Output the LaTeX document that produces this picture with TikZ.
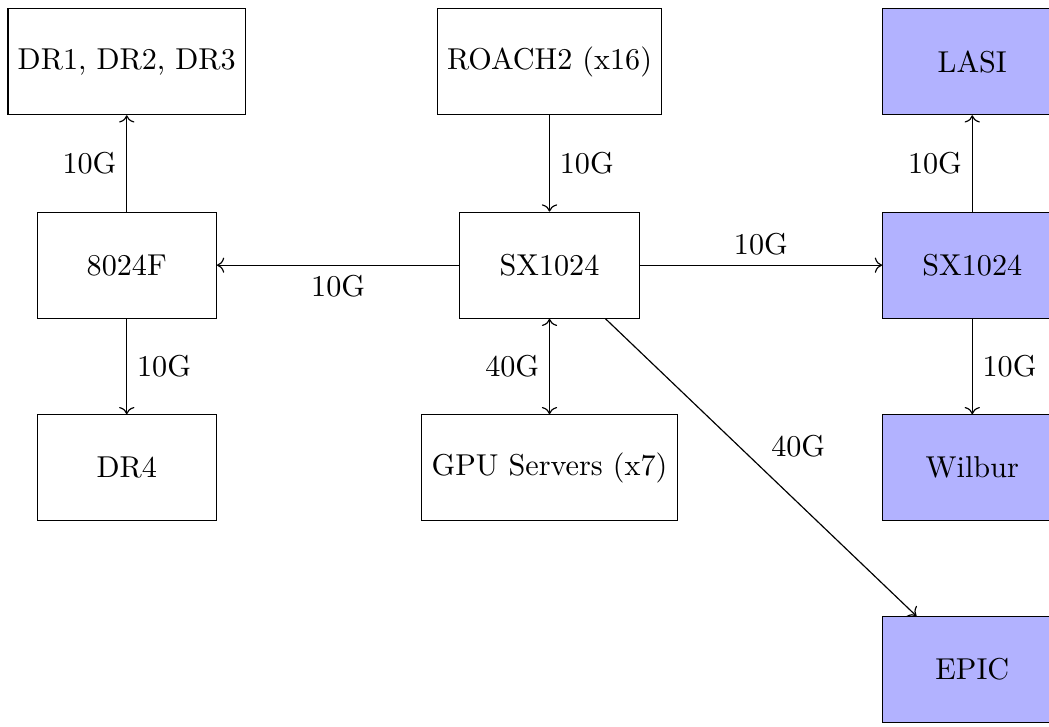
\documentclass[tikz,border=0pt]{standalone}
\usepackage{tikz}
\usetikzlibrary{arrows.meta,positioning}
\begin{document}
\begin{tikzpicture}[
    font=\fontsize{10.3}{12.4}\selectfont,
    box/.style={draw, minimum width=2.15cm, minimum height=1.27cm, align=center},
    ext/.style={box, fill=blue!30},
    arr/.style={->}
  ]
    \useasboundingbox (0,0) rectangle (12.58,-8.71);

    \node[box]  (dr123)  at (1.52,-0.74)  {DR1, DR2, DR3};
    \node[box]  (sw8024) at (1.52,-3.18)  {8024F};
    \node[box]  (dr4)    at (1.52,-5.61)  {DR4};
    \node[box]  (roach)  at (6.59,-0.74)  {ROACH2 (x16)};
    \node[box]  (sxmain) at (6.59,-3.18)  {SX1024};
    \node[box]  (gpu)    at (6.59,-5.61)  {GPU Servers (x7)};
    \node[ext]  (lasi)   at (11.66,-0.74) {LASI};
    \node[ext]  (sxext)  at (11.66,-3.18) {SX1024};
    \node[ext]  (wilbur) at (11.66,-5.61) {Wilbur};
    \node[ext]  (epic)   at (11.66,-8.03) {EPIC};

    \draw[arr]     (sw8024) -- node[left]{10G} (dr123);
    \draw[arr]     (sw8024) -- node[right]{10G} (dr4);
    \draw[arr]     (roach) -- node[right]{10G} (sxmain);
    \draw[arr]     (sxmain) -- node[below]{10G} (sw8024);
    \draw[arr,<->] (sxmain) -- node[left]{40G} (gpu);
    \draw[arr]     (sxmain) -- node[above]{10G} (sxext);
    \draw[arr]     (sxmain) -- node[above right]{40G} (epic);
    \draw[arr]     (sxext) -- node[left]{10G} (lasi);
    \draw[arr]     (sxext) -- node[right]{10G} (wilbur);
  \end{tikzpicture}
\end{document}
